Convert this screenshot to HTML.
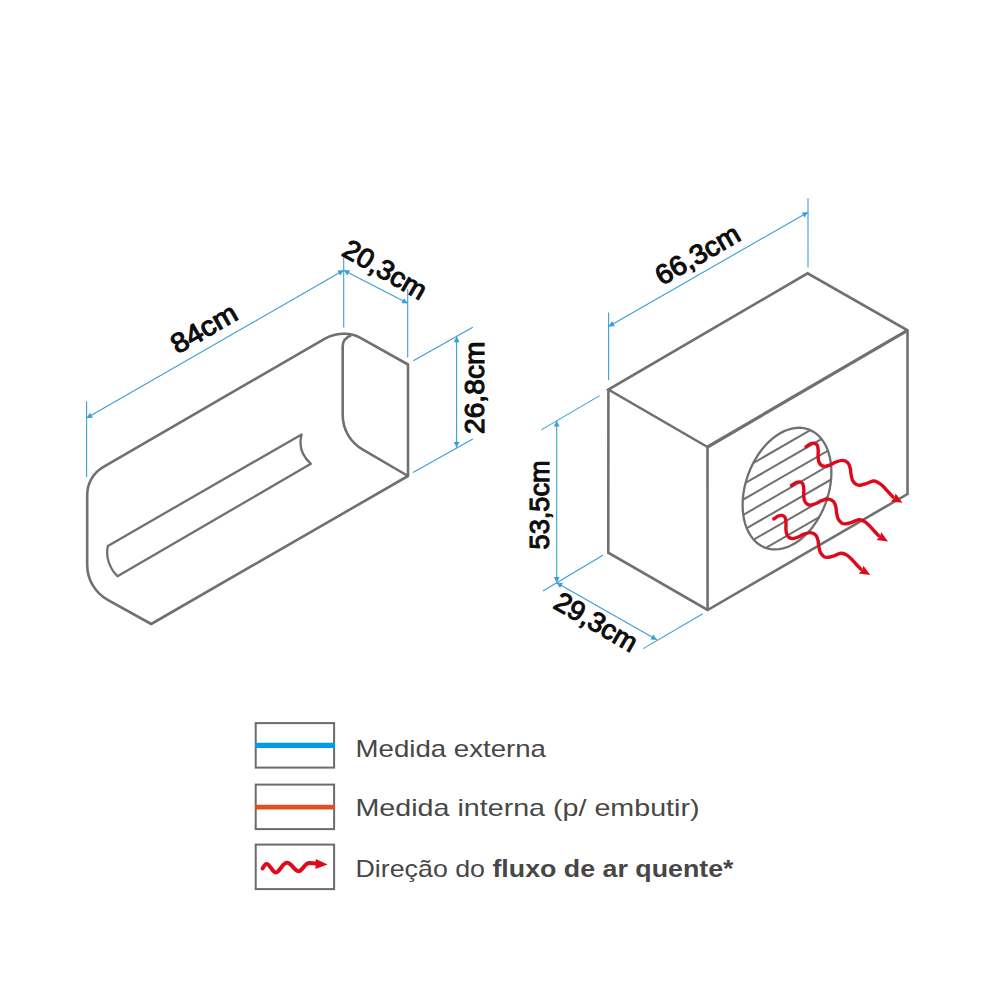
<!DOCTYPE html>
<html><head><meta charset="utf-8"><style>
html,body{margin:0;padding:0;background:#fff;width:1000px;height:1000px;overflow:hidden;}
svg{display:block;font-family:"Liberation Sans",sans-serif;}
</style></head><body>
<svg width="1000" height="1000" viewBox="0 0 1000 1000"><path d="M151.2,624 L107.7,599.8 A40,40 0 0 1 87.2,564.8 L87.2,494.8 A32,32 0 0 1 103.1,467.1 L325,338.6 C335,333 350,331.5 360,337.7 L408,364.5 L408,476 Z" fill="none" stroke="#707070" stroke-width="2.6" stroke-linejoin="round"/>
<path d="M351.2,335.3 C346,337.5 342.7,340.5 342.7,346 L342.7,415.1 A39.5,39.5 0 0 0 362.9,449.6 L408,476" fill="none" stroke="#707070" stroke-width="2.6" stroke-linejoin="round"/>
<path d="M107.9,545.9 L301.6,434.4 C298.5,446 302,456 310.9,463.8 L117.5,576.2 C109,568 105.5,556 107.9,545.9 Z" fill="none" stroke="#707070" stroke-width="2.3" stroke-linejoin="round"/>
<g stroke="#3a9ed4" stroke-width="1.1" fill="none">
<line x1="86.6" y1="401.3" x2="86.6" y2="477"/>
<line x1="343.7" y1="257.5" x2="343.7" y2="327.5"/>
<line x1="407.7" y1="289" x2="407.7" y2="357.5"/>
<line x1="86.6" y1="418.1" x2="343.7" y2="270.3"/>
<line x1="343.7" y1="270.3" x2="407.7" y2="303.3"/>
<line x1="413.3" y1="360.8" x2="472.8" y2="327.2"/>
<line x1="413" y1="472.5" x2="472.8" y2="439"/>
<line x1="456.6" y1="336.6" x2="456.6" y2="447.6"/>
</g>
<polygon points="86.60,418.10 90.01,412.79 92.90,417.82" fill="#3a9ed4"/>
<polygon points="343.70,270.30 340.29,275.61 337.40,270.58" fill="#3a9ed4"/>
<polygon points="343.70,270.30 350.01,270.29 347.35,275.44" fill="#3a9ed4"/>
<polygon points="407.70,303.30 401.39,303.31 404.05,298.16" fill="#3a9ed4"/>
<polygon points="456.60,336.60 459.50,342.20 453.70,342.20" fill="#3a9ed4"/>
<polygon points="456.60,447.60 453.70,442.00 459.50,442.00" fill="#3a9ed4"/>
<polyline points="707.5,447.0 608.4,389.6 807.6,273.3 907.5,330.3 907.5,494.0 707.6,610.0 608.3,552.7 608.4,389.6" fill="none" stroke="#707070" stroke-width="2.6" stroke-linejoin="miter"/>
<line x1="707.5" y1="447.0" x2="707.6" y2="610.0" stroke="#707070" stroke-width="2.6"/>
<line x1="707.5" y1="447.0" x2="907.5" y2="330.3" stroke="#707070" stroke-width="3.2"/>
<defs><clipPath id="ec"><circle cx="0" cy="0" r="1" transform="matrix(0,58.600,44.400,-16.428,787.00,488.60)"/></clipPath></defs>
<g clip-path="url(#ec)" stroke="#707070" stroke-width="2">
<line x1="730.0" y1="461.2" x2="850.0" y2="391.9"/>
<line x1="730.0" y1="476.5" x2="850.0" y2="407.2"/>
<line x1="730.0" y1="491.9" x2="850.0" y2="422.6"/>
<line x1="730.0" y1="507.2" x2="850.0" y2="437.9"/>
<line x1="730.0" y1="522.6" x2="850.0" y2="453.3"/>
<line x1="730.0" y1="537.9" x2="850.0" y2="468.6"/>
<line x1="730.0" y1="553.3" x2="850.0" y2="484.0"/>
<line x1="730.0" y1="568.6" x2="850.0" y2="499.3"/>
<line x1="730.0" y1="584.0" x2="850.0" y2="514.7"/>
<line x1="730.0" y1="599.3" x2="850.0" y2="530.0"/>
</g>
<polygon points="787.00,547.20 790.87,545.55 794.71,543.46 798.49,540.95 802.19,538.05 805.76,534.77 809.20,531.14 812.47,527.18 815.54,522.93 818.40,518.42 821.01,513.68 823.37,508.75 825.45,503.67 827.24,498.48 828.72,493.21 829.89,487.90 830.73,482.60 831.23,477.34 831.40,472.17 831.23,467.13 830.73,462.25 829.89,457.56 828.72,453.12 827.24,448.95 825.45,445.07 823.37,441.53 821.01,438.35 818.40,435.55 815.54,433.15 812.47,431.17 809.20,429.64 805.76,428.55 802.19,427.92 798.49,427.74 794.71,428.04 790.87,428.79 787.00,430.00 783.13,431.65 779.29,433.74 775.51,436.25 771.81,439.15 768.24,442.43 764.80,446.06 761.53,450.02 758.46,454.27 755.60,458.78 752.99,463.52 750.63,468.45 748.55,473.53 746.76,478.72 745.28,483.99 744.11,489.30 743.27,494.60 742.77,499.86 742.60,505.03 742.77,510.07 743.27,514.95 744.11,519.64 745.28,524.08 746.76,528.25 748.55,532.13 750.63,535.67 752.99,538.85 755.60,541.65 758.46,544.05 761.53,546.03 764.80,547.56 768.24,548.65 771.81,549.28 775.51,549.46 779.29,549.16 783.13,548.41 787.00,547.20" fill="none" stroke="#707070" stroke-width="2.3"/>
<g stroke="#3a9ed4" stroke-width="1.1" fill="none">
<line x1="608.6" y1="312.4" x2="608.6" y2="380"/>
<line x1="808" y1="198.2" x2="808" y2="267.4"/>
<line x1="608.6" y1="326.4" x2="808" y2="212.2"/>
<line x1="541.3" y1="429.9" x2="599.7" y2="395.6"/>
<line x1="543" y1="591" x2="602.9" y2="555.2"/>
<line x1="556.7" y1="420.9" x2="556.7" y2="582.7"/>
<line x1="556.6" y1="582.7" x2="656.8" y2="639.8"/>
<line x1="643.2" y1="648.6" x2="702.8" y2="613.8"/>
</g>
<polygon points="608.60,326.40 612.02,321.10 614.90,326.13" fill="#3a9ed4"/>
<polygon points="808.00,212.20 804.58,217.50 801.70,212.47" fill="#3a9ed4"/>
<polygon points="556.70,420.90 559.60,426.50 553.80,426.50" fill="#3a9ed4"/>
<polygon points="556.70,582.70 553.80,577.10 559.60,577.10" fill="#3a9ed4"/>
<polygon points="556.60,582.70 562.90,582.95 560.03,587.99" fill="#3a9ed4"/>
<polygon points="656.80,639.80 650.50,639.55 653.37,634.51" fill="#3a9ed4"/>
<g transform="translate(806.0,446.8)"><path d="M0.00,0.00 C0.67,-0.47 2.60,-2.20 4.00,-2.80 C5.40,-3.40 7.20,-3.80 8.40,-3.60 C9.60,-3.40 10.57,-2.73 11.20,-1.60 C11.83,-0.47 12.05,1.40 12.20,3.20 C12.35,5.00 12.00,7.27 12.10,9.20 C12.20,11.13 12.28,13.27 12.80,14.80 C13.32,16.33 14.20,17.60 15.20,18.40 C16.20,19.20 17.27,19.67 18.80,19.60 C20.33,19.53 22.53,18.73 24.40,18.00 C26.27,17.27 27.97,15.93 30.00,15.20 C32.03,14.47 34.63,13.47 36.60,13.60 C38.57,13.73 40.53,14.73 41.80,16.00 C43.07,17.27 43.67,19.33 44.20,21.20 C44.73,23.07 44.60,25.13 45.00,27.20 C45.40,29.27 45.73,31.87 46.60,33.60 C47.47,35.33 49.00,36.80 50.20,37.60 C51.40,38.40 52.13,38.53 53.80,38.40 C55.47,38.27 57.97,37.50 60.20,36.80 C62.43,36.10 65.23,34.40 67.20,34.20 C69.17,34.00 70.40,34.77 72.00,35.60 C73.60,36.43 75.20,37.73 76.80,39.20 C78.40,40.67 79.90,42.57 81.60,44.40 C83.30,46.23 86.10,49.23 87.00,50.20" fill="none" stroke="#de0a1c" stroke-width="3.4" stroke-linecap="round" stroke-linejoin="round"/><polygon points="96.5,56.0 89.6,46.8 88.2,51.4 84.8,54.6" fill="#de0a1c"/></g>
<g transform="translate(791.6,485.5)"><path d="M0.00,0.00 C0.67,-0.47 2.60,-2.20 4.00,-2.80 C5.40,-3.40 7.20,-3.80 8.40,-3.60 C9.60,-3.40 10.57,-2.73 11.20,-1.60 C11.83,-0.47 12.05,1.40 12.20,3.20 C12.35,5.00 12.00,7.27 12.10,9.20 C12.20,11.13 12.28,13.27 12.80,14.80 C13.32,16.33 14.20,17.60 15.20,18.40 C16.20,19.20 17.27,19.67 18.80,19.60 C20.33,19.53 22.53,18.73 24.40,18.00 C26.27,17.27 27.97,15.93 30.00,15.20 C32.03,14.47 34.63,13.47 36.60,13.60 C38.57,13.73 40.53,14.73 41.80,16.00 C43.07,17.27 43.67,19.33 44.20,21.20 C44.73,23.07 44.60,25.13 45.00,27.20 C45.40,29.27 45.73,31.87 46.60,33.60 C47.47,35.33 49.00,36.80 50.20,37.60 C51.40,38.40 52.13,38.53 53.80,38.40 C55.47,38.27 57.97,37.50 60.20,36.80 C62.43,36.10 65.23,34.40 67.20,34.20 C69.17,34.00 70.40,34.77 72.00,35.60 C73.60,36.43 75.20,37.73 76.80,39.20 C78.40,40.67 79.90,42.57 81.60,44.40 C83.30,46.23 86.10,49.23 87.00,50.20" fill="none" stroke="#de0a1c" stroke-width="3.4" stroke-linecap="round" stroke-linejoin="round"/><polygon points="96.5,56.0 89.6,46.8 88.2,51.4 84.8,54.6" fill="#de0a1c"/></g>
<g transform="translate(773.8,519.0)"><path d="M0.00,0.00 C0.67,-0.47 2.60,-2.20 4.00,-2.80 C5.40,-3.40 7.20,-3.80 8.40,-3.60 C9.60,-3.40 10.57,-2.73 11.20,-1.60 C11.83,-0.47 12.05,1.40 12.20,3.20 C12.35,5.00 12.00,7.27 12.10,9.20 C12.20,11.13 12.28,13.27 12.80,14.80 C13.32,16.33 14.20,17.60 15.20,18.40 C16.20,19.20 17.27,19.67 18.80,19.60 C20.33,19.53 22.53,18.73 24.40,18.00 C26.27,17.27 27.97,15.93 30.00,15.20 C32.03,14.47 34.63,13.47 36.60,13.60 C38.57,13.73 40.53,14.73 41.80,16.00 C43.07,17.27 43.67,19.33 44.20,21.20 C44.73,23.07 44.60,25.13 45.00,27.20 C45.40,29.27 45.73,31.87 46.60,33.60 C47.47,35.33 49.00,36.80 50.20,37.60 C51.40,38.40 52.13,38.53 53.80,38.40 C55.47,38.27 57.97,37.50 60.20,36.80 C62.43,36.10 65.23,34.40 67.20,34.20 C69.17,34.00 70.40,34.77 72.00,35.60 C73.60,36.43 75.20,37.73 76.80,39.20 C78.40,40.67 79.90,42.57 81.60,44.40 C83.30,46.23 86.10,49.23 87.00,50.20" fill="none" stroke="#de0a1c" stroke-width="3.4" stroke-linecap="round" stroke-linejoin="round"/><polygon points="96.5,56.0 89.6,46.8 88.2,51.4 84.8,54.6" fill="#de0a1c"/></g>
<text font-family="Liberation Sans, sans-serif" font-weight="normal" font-size="27.5" fill="#0d0d0d" stroke="#0d0d0d" stroke-width="1.1" lengthAdjust="spacingAndGlyphs" transform="translate(177.5,354.6) rotate(-30.0)" textLength="72.0">84cm</text>
<text font-family="Liberation Sans, sans-serif" font-weight="normal" font-size="27.5" fill="#0d0d0d" stroke="#0d0d0d" stroke-width="1.1" lengthAdjust="spacingAndGlyphs" transform="translate(340.4,254.8) rotate(30.0)" textLength="92.0">20,3cm</text>
<text font-family="Liberation Sans, sans-serif" font-weight="normal" font-size="27.5" fill="#0d0d0d" stroke="#0d0d0d" stroke-width="1.1" lengthAdjust="spacingAndGlyphs" transform="translate(484.3,434.0) rotate(-90.0)" textLength="92.5">26,8cm</text>
<text font-family="Liberation Sans, sans-serif" font-weight="normal" font-size="27.5" fill="#0d0d0d" stroke="#0d0d0d" stroke-width="1.1" lengthAdjust="spacingAndGlyphs" transform="translate(662.0,286.0) rotate(-30.0)" textLength="93.0">66,3cm</text>
<text font-family="Liberation Sans, sans-serif" font-weight="normal" font-size="27.5" fill="#0d0d0d" stroke="#0d0d0d" stroke-width="1.1" lengthAdjust="spacingAndGlyphs" transform="translate(548.7,549.4) rotate(-90.0)" textLength="89.0">53,5cm</text>
<text font-family="Liberation Sans, sans-serif" font-weight="normal" font-size="27.5" fill="#0d0d0d" stroke="#0d0d0d" stroke-width="1.1" lengthAdjust="spacingAndGlyphs" transform="translate(552.0,607.2) rotate(30.0)" textLength="91.0">29,3cm</text>
<g fill="none" stroke="#6b6b6b" stroke-width="2">
<rect x="255.7" y="723.1" width="78.4" height="44.5"/>
<rect x="255.7" y="784.6" width="78.4" height="44.5"/>
<rect x="255.7" y="844.6" width="78.4" height="44.5"/>
</g>
<line x1="255" y1="745.4" x2="335" y2="745.4" stroke="#009de2" stroke-width="5.2"/>
<line x1="255" y1="807.2" x2="335" y2="807.2" stroke="#e04f22" stroke-width="4.8"/>
<path d="M262.6,868.4 C264,866 265,864 266.5,864 C270,864 272.5,872.4 275.8,872.4 C279.5,872.4 282.5,862.8 287,862.8 C291.5,862.8 294.5,871.2 298.6,871.2 C302.5,871.2 304.5,863 309.4,863 L317,863.6" fill="none" stroke="#de0a1c" stroke-width="4" stroke-linecap="round"/>
<polygon points="327.6,864.4 315.8,859 315.4,869" fill="#de0a1c"/>
<text font-family="Liberation Sans, sans-serif" font-size="23.8" fill="#474747" lengthAdjust="spacingAndGlyphs" x="355.5" y="756.9" textLength="190.5">Medida externa</text>
<text font-family="Liberation Sans, sans-serif" font-size="23.8" fill="#474747" lengthAdjust="spacingAndGlyphs" x="355.5" y="815.7" textLength="344">Medida interna (p/ embutir)</text>
<text font-family="Liberation Sans, sans-serif" font-size="23.8" fill="#474747" lengthAdjust="spacingAndGlyphs" x="355.5" y="877.2" textLength="378">Direção do <tspan font-weight="bold">fluxo de ar quente*</tspan></text></svg>
</body></html>
